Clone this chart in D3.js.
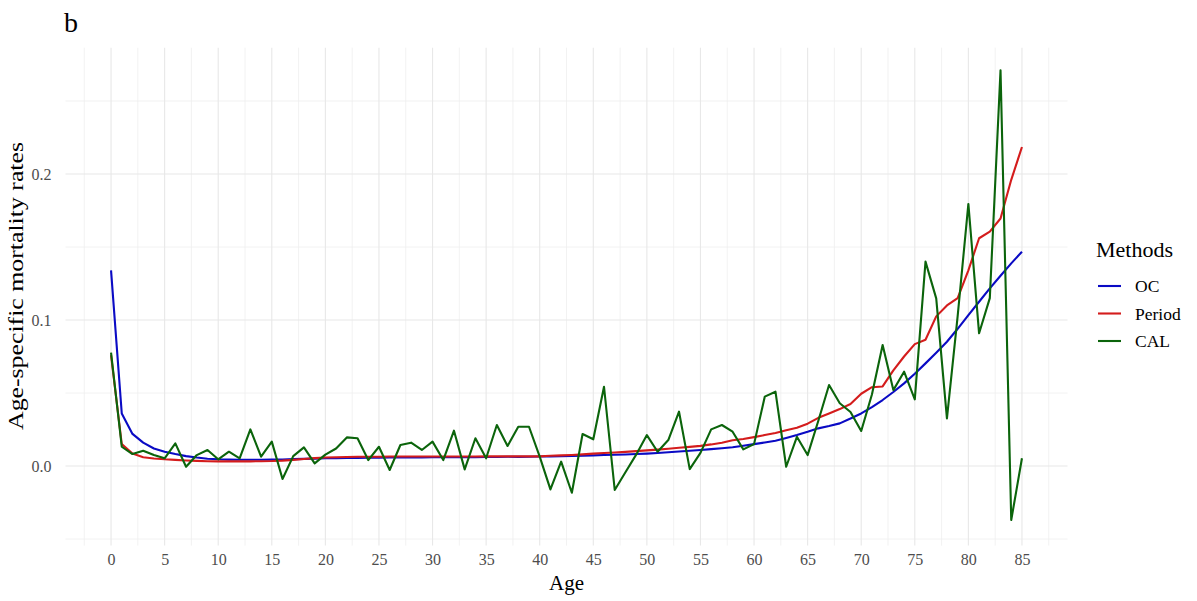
<!DOCTYPE html>
<html>
<head>
<meta charset="utf-8">
<script src="https://cdn.jsdelivr.net/npm/d3@7"></script>
<style>
  html, body { margin: 0; padding: 0; background: #fff; }
  svg { display: block; }
  text { font-family: "Liberation Serif", "Times New Roman", serif; }
</style>
</head>
<body>
<svg id="chart" width="1197" height="601"></svg>
<script>
// Ages 0..85
const ages = d3.range(0, 86);

// Age-specific mortality rates by method
const ocRates = [
  0.134, 0.036, 0.022, 0.016, 0.012, 0.0098, 0.0082, 0.0068, 0.0058, 0.005,
  0.0046, 0.0044, 0.0043, 0.0043, 0.0043, 0.0044, 0.0045, 0.0047, 0.0049, 0.0051,
  0.0053, 0.0054, 0.0055, 0.0056, 0.0057, 0.0057, 0.0058, 0.0058, 0.0059, 0.0059,
  0.006, 0.006, 0.006, 0.0061, 0.0061, 0.0062, 0.0062, 0.0063, 0.0063, 0.0064,
  0.0065, 0.0066, 0.0068, 0.0069, 0.0071, 0.0073, 0.0075, 0.0077, 0.0079, 0.0082,
  0.0085, 0.0089, 0.0094, 0.0099, 0.0105, 0.011, 0.0116, 0.0122, 0.0129, 0.0139,
  0.015, 0.0161, 0.0173, 0.0192, 0.0212, 0.0234, 0.0258, 0.0274, 0.0292, 0.0325,
  0.036, 0.0404, 0.0452, 0.0507, 0.0566, 0.0632, 0.0703, 0.0776, 0.0851, 0.094,
  0.1034, 0.1125, 0.1217, 0.1303, 0.1388, 0.1468
];

const periodRates = [
  0.076, 0.015, 0.0085, 0.006, 0.0052, 0.0046, 0.0042, 0.0038, 0.0035, 0.0033,
  0.0032, 0.0032, 0.0032, 0.0032, 0.0033, 0.0034, 0.0037, 0.0042, 0.0048, 0.0054,
  0.0058, 0.006, 0.0062, 0.0063, 0.0064, 0.0064, 0.0065, 0.0065, 0.0065, 0.0065,
  0.0065, 0.0065, 0.0065, 0.0065, 0.0065, 0.0066, 0.0066, 0.0066, 0.0066, 0.0066,
  0.0066, 0.007, 0.0073, 0.0076, 0.008, 0.0085, 0.0089, 0.0093, 0.0097, 0.0102,
  0.0107, 0.0112, 0.0118, 0.0125, 0.0131, 0.0138, 0.0148, 0.016, 0.0176, 0.0185,
  0.0198, 0.0212, 0.0226, 0.0245, 0.0262, 0.029, 0.033, 0.036, 0.039, 0.0425,
  0.0495, 0.054, 0.0545, 0.0655, 0.075, 0.0835, 0.0865, 0.1025, 0.11, 0.115,
  0.134, 0.156, 0.1605, 0.1695, 0.196, 0.2185
];

const calRates = [
  0.0776, 0.0132, 0.0082, 0.0105, 0.0075, 0.0053, 0.0155, -0.0005, 0.0075, 0.011,
  0.0046, 0.0098, 0.0053, 0.0251, 0.0064, 0.0167, -0.0089, 0.0068, 0.0128, 0.0018,
  0.0078, 0.012, 0.0196, 0.019, 0.0041, 0.0132, -0.0027, 0.0144, 0.016, 0.011,
  0.0167, 0.0041, 0.0242, -0.0023, 0.019, 0.0053, 0.0281, 0.0137, 0.0269, 0.0269,
  0.0064, -0.016, 0.003, -0.0183, 0.0219, 0.0183, 0.0543, -0.0164, -0.0043, 0.0078,
  0.0212, 0.0098, 0.0178, 0.0372, -0.0021, 0.009, 0.0251, 0.0281, 0.0235, 0.0114,
  0.015, 0.0475, 0.0509, -0.0005, 0.02, 0.0075, 0.031, 0.0555, 0.043, 0.037,
  0.024, 0.049, 0.0829, 0.052, 0.0646, 0.0457, 0.14, 0.1148, 0.0326, 0.1027,
  0.1795, 0.0909, 0.115, 0.271, -0.037, 0.0053
];

const methodNames = ["OC", "Period", "CAL"];
const methodColors = ["#0a0ac4", "#d41c1c", "#0b640b"];

const xTicks = d3.range(0, 86, 5);
const xMinorTicks = d3.range(-2.5, 90, 5);
const yTicks = [0, 0.1, 0.2];
const yMinorTicks = [-0.05, 0.05, 0.15, 0.25];
const xLimits = [-4.25, 89.25];
const yLimits = [-0.0545, 0.2865];

const svg = d3.select("#chart");
const panel = { left: 65.5, right: 1067.5, top: 47.7, bottom: 545.6 };

const x = d3.scaleLinear().domain(xLimits).range([panel.left, panel.right]);
const y = d3.scaleLinear().domain(yLimits).range([panel.bottom, panel.top]);

// Grid: minor first, then major
const grid = svg.append("g");
grid.selectAll(".vminor").data(xMinorTicks).enter().append("line")
  .attr("x1", d => x(d)).attr("x2", d => x(d))
  .attr("y1", panel.top).attr("y2", panel.bottom)
  .attr("stroke", "#efefef").attr("stroke-width", 0.8);
grid.selectAll(".hminor").data(yMinorTicks).enter().append("line")
  .attr("x1", panel.left).attr("x2", panel.right)
  .attr("y1", d => y(d)).attr("y2", d => y(d))
  .attr("stroke", "#efefef").attr("stroke-width", 0.8);
grid.selectAll(".vmajor").data(xTicks).enter().append("line")
  .attr("x1", d => x(d)).attr("x2", d => x(d))
  .attr("y1", panel.top).attr("y2", panel.bottom)
  .attr("stroke", "#e8e8e8").attr("stroke-width", 1.1);
grid.selectAll(".hmajor").data(yTicks).enter().append("line")
  .attr("x1", panel.left).attr("x2", panel.right)
  .attr("y1", d => y(d)).attr("y2", d => y(d))
  .attr("stroke", "#e8e8e8").attr("stroke-width", 1.1);

// Axes (text only, no domain or tick marks)
const xAxis = svg.append("g")
  .attr("transform", `translate(0,${panel.bottom})`)
  .call(d3.axisBottom(x).tickValues(xTicks).tickSize(0).tickPadding(8).tickFormat(d3.format("d")));
xAxis.select(".domain").remove();
xAxis.selectAll("text")
  .attr("fill", "#4d4d4d")
  .style("font-size", "16px")
  .style("font-family", "'Liberation Serif', serif");

const yAxis = svg.append("g")
  .attr("transform", `translate(${panel.left},0)`)
  .call(d3.axisLeft(y).tickValues(yTicks).tickSize(0).tickPadding(14).tickFormat(d3.format(".1f")));
yAxis.select(".domain").remove();
yAxis.selectAll("text")
  .attr("fill", "#4d4d4d")
  .style("font-size", "16px")
  .style("font-family", "'Liberation Serif', serif");

// Series lines
const series = methodNames.map((name, i) => ({
  name,
  color: methodColors[i],
  values: [ocRates, periodRates, calRates][i]
}));

const line = d3.line()
  .x((d, i) => x(ages[i]))
  .y(d => y(d));

svg.append("g").selectAll("path").data(series).enter().append("path")
  .attr("d", d => line(d.values))
  .attr("fill", "none")
  .attr("stroke", d => d.color)
  .attr("stroke-width", 2.1)
  .attr("stroke-linejoin", "round")
  .attr("stroke-linecap", "butt");

// Axis titles
svg.append("text")
  .attr("x", (panel.left + panel.right) / 2)
  .attr("y", 590)
  .attr("text-anchor", "middle")
  .style("font-size", "21px")
  .attr("fill", "#000")
  .text("Age");

svg.append("text")
  .attr("transform", "translate(23,286) rotate(-90)")
  .attr("text-anchor", "middle")
  .attr("textLength", 288)
  .attr("lengthAdjust", "spacingAndGlyphs")
  .style("font-size", "20px")
  .attr("fill", "#000")
  .text("Age-specific mortality rates");

// Panel tag
svg.append("text")
  .attr("x", 64)
  .attr("y", 32)
  .style("font-size", "28px")
  .attr("fill", "#000")
  .text("b");

// Legend
const legend = svg.append("g");
legend.append("text")
  .attr("x", 1096)
  .attr("y", 257)
  .style("font-size", "22px")
  .attr("fill", "#000")
  .text("Methods");

const rows = legend.selectAll(".row").data(series).enter().append("g")
  .attr("transform", (d, i) => `translate(0,${286 + i * 27.5})`);
rows.append("line")
  .attr("x1", 1098).attr("x2", 1121)
  .attr("y1", 0).attr("y2", 0)
  .attr("stroke", d => d.color)
  .attr("stroke-width", 2.1);
rows.append("text")
  .attr("x", 1135)
  .attr("y", 0)
  .attr("dy", "0.35em")
  .style("font-size", "17.5px")
  .attr("fill", "#000")
  .text(d => d.name);
</script>
</body>
</html>
